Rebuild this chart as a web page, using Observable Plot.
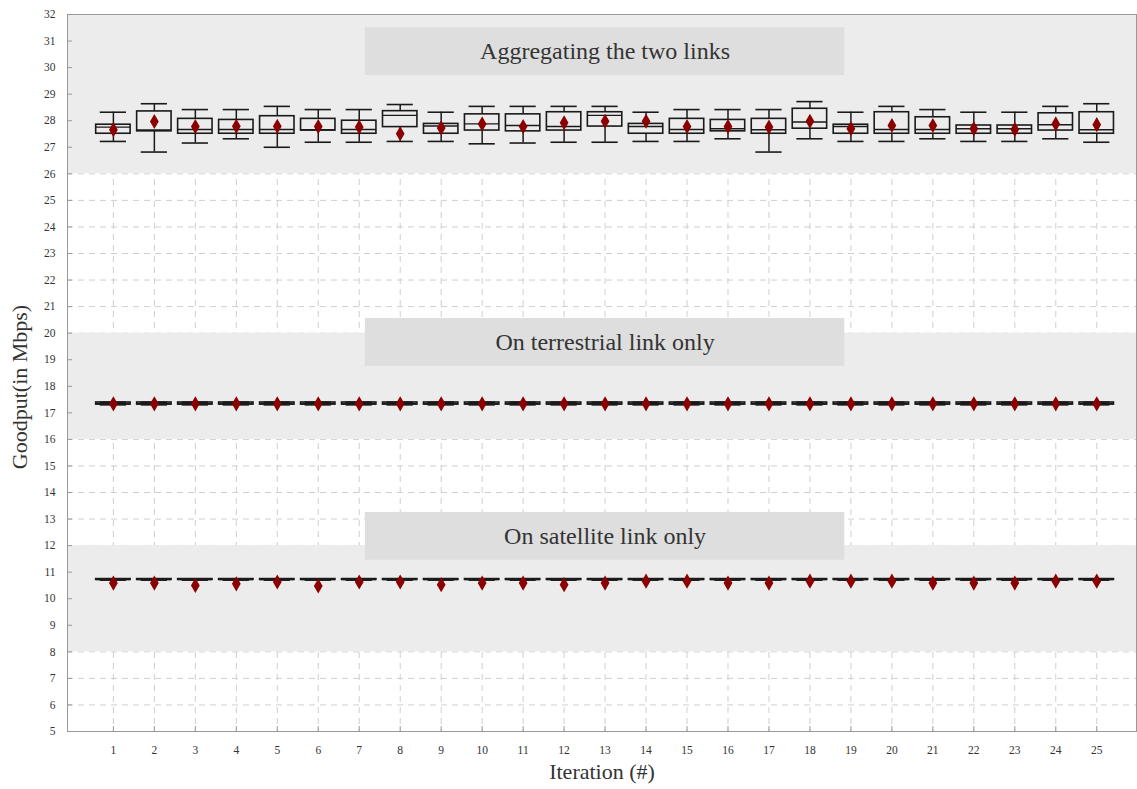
<!DOCTYPE html>
<html>
<head>
<meta charset="utf-8">
<script src="https://cdn.jsdelivr.net/npm/d3@7"></script>
<script src="https://cdn.jsdelivr.net/npm/@observablehq/plot@0.6"></script>
<style>
  html, body { margin: 0; padding: 0; background: #fff; }
  #chart svg { display: block; }
</style>
</head>
<body>
<div id="chart"></div>
<script>
// ---- data ----
const iterations = [1,2,3,4,5,6,7,8,9,10,11,12,13,14,15,16,17,18,19,20,21,22,23,24,25];
const yTicks = [5,6,7,8,9,10,11,12,13,14,15,16,17,18,19,20,21,22,23,24,25,26,27,28,29,30,31,32];

// Aggregating the two links
const aggHi   = [28.32,28.64,28.42,28.42,28.54,28.42,28.42,28.61,28.32,28.54,28.54,28.54,28.54,28.32,28.42,28.42,28.42,28.72,28.32,28.54,28.42,28.32,28.32,28.54,28.64];
const aggQ3   = [27.85,28.35,28.07,28.03,28.17,28.07,28.00,28.36,27.88,28.24,28.24,28.32,28.32,27.88,28.07,28.03,28.07,28.45,27.85,28.32,28.13,27.82,27.82,28.28,28.32];
const aggMed  = [27.76,27.65,27.67,27.67,27.67,27.66,27.67,28.20,27.80,27.88,27.82,27.78,28.20,27.78,27.67,27.70,27.66,27.95,27.78,27.67,27.67,27.70,27.70,27.85,27.66];
const aggQ1   = [27.51,27.60,27.51,27.51,27.51,27.63,27.51,27.76,27.51,27.63,27.60,27.63,27.78,27.51,27.51,27.60,27.51,27.70,27.51,27.51,27.51,27.51,27.51,27.63,27.51];
const aggLo   = [27.22,26.82,27.16,27.32,27.00,27.19,27.19,27.22,27.22,27.13,27.16,27.19,27.19,27.22,27.22,27.32,26.82,27.32,27.22,27.22,27.32,27.22,27.22,27.32,27.19];
const aggMean = [27.66,27.97,27.78,27.79,27.79,27.78,27.76,27.51,27.73,27.88,27.78,27.92,27.98,27.98,27.78,27.78,27.76,27.98,27.70,27.82,27.82,27.70,27.67,27.88,27.85];

// On terrestrial link only
const terHi   = [17.40,17.40,17.40,17.40,17.40,17.40,17.40,17.40,17.40,17.40,17.40,17.40,17.40,17.40,17.40,17.40,17.40,17.40,17.40,17.40,17.40,17.40,17.40,17.40,17.40];
const terQ3   = [17.39,17.39,17.39,17.39,17.39,17.39,17.39,17.39,17.39,17.39,17.39,17.39,17.39,17.39,17.39,17.39,17.39,17.39,17.39,17.39,17.39,17.39,17.39,17.39,17.39];
const terMed  = [17.35,17.35,17.35,17.35,17.35,17.35,17.35,17.35,17.35,17.35,17.35,17.35,17.35,17.35,17.35,17.35,17.35,17.35,17.35,17.35,17.35,17.35,17.35,17.35,17.35];
const terQ1   = [17.31,17.31,17.31,17.31,17.31,17.31,17.31,17.31,17.31,17.31,17.31,17.31,17.31,17.31,17.31,17.31,17.31,17.31,17.31,17.31,17.31,17.31,17.31,17.31,17.31];
const terLo   = [17.30,17.30,17.30,17.30,17.30,17.30,17.30,17.30,17.30,17.30,17.30,17.30,17.30,17.30,17.30,17.30,17.30,17.30,17.30,17.30,17.30,17.30,17.30,17.30,17.30];
const terMean = [17.34,17.34,17.34,17.34,17.34,17.34,17.34,17.34,17.34,17.34,17.34,17.34,17.34,17.34,17.34,17.34,17.34,17.34,17.34,17.34,17.34,17.34,17.34,17.34,17.34];

// On satellite link only
const satHi   = [10.75,10.75,10.75,10.75,10.75,10.75,10.75,10.75,10.75,10.75,10.75,10.75,10.75,10.75,10.75,10.75,10.75,10.75,10.75,10.75,10.75,10.75,10.75,10.75,10.75];
const satQ3   = [10.74,10.74,10.74,10.74,10.74,10.74,10.74,10.74,10.74,10.74,10.74,10.74,10.74,10.74,10.74,10.74,10.74,10.74,10.74,10.74,10.74,10.74,10.74,10.74,10.74];
const satMed  = [10.72,10.72,10.72,10.72,10.72,10.72,10.72,10.72,10.72,10.72,10.72,10.72,10.72,10.72,10.72,10.72,10.72,10.72,10.72,10.72,10.72,10.72,10.72,10.72,10.72];
const satQ1   = [10.71,10.71,10.71,10.71,10.71,10.71,10.71,10.71,10.71,10.71,10.71,10.71,10.71,10.71,10.71,10.71,10.71,10.71,10.71,10.71,10.71,10.71,10.71,10.71,10.71];
const satLo   = [10.70,10.70,10.70,10.70,10.70,10.70,10.70,10.70,10.70,10.70,10.70,10.70,10.70,10.70,10.70,10.70,10.70,10.70,10.70,10.70,10.70,10.70,10.70,10.70,10.70];
const satMean = [10.59,10.59,10.50,10.56,10.63,10.48,10.63,10.63,10.53,10.59,10.59,10.53,10.59,10.66,10.66,10.59,10.59,10.66,10.66,10.66,10.59,10.59,10.59,10.66,10.66];

// panels: shaded band range and title box centre
const panelLabels = ["Aggregating the two links", "On terrestrial link only", "On satellite link only"];
const panelLo     = [26, 16, 8];
const panelHi     = [32, 20, 12];
const panelTitleY = [30.6, 19.65, 12.35];
const panelTitleX = [13.0, 13.0, 13.0];

// ---- build tables ----
const series = [
  {hi: aggHi, q3: aggQ3, med: aggMed, q1: aggQ1, lo: aggLo, mean: aggMean},
  {hi: terHi, q3: terQ3, med: terMed, q1: terQ1, lo: terLo, mean: terMean},
  {hi: satHi, q3: satQ3, med: satMed, q1: satQ1, lo: satLo, mean: satMean}
];
const boxes = series.flatMap(s => iterations.map((it, i) => ({
  it, hi: s.hi[i], q3: s.q3[i], med: s.med[i], q1: s.q1[i], lo: s.lo[i], mean: s.mean[i]
})));
const panels = panelLabels.map((label, i) => ({
  label, lo: panelLo[i], hi: panelHi[i], ty: panelTitleY[i], tx: panelTitleX[i]
}));

const BOX_HALF = 0.42, CAP_HALF = 0.32, TITLE_HALF_W = 5.85, TITLE_HALF_H = 0.9;
const serif = "'Liberation Serif', 'DejaVu Serif', serif";
const ink = "#1a1a1a";

const chart = Plot.plot({
  width: 1137,
  height: 789,
  marginLeft: 67,
  marginRight: 1,
  marginTop: 14,
  marginBottom: 58,
  style: {fontFamily: serif, background: "#fff", color: "#333"},
  x: {domain: [-0.12, 25.97]},
  y: {domain: [5, 32]},
  marks: [
    // dashed grid
    Plot.ruleY(yTicks, {y: d => d, stroke: "#cfcfcf", strokeDasharray: "6,5", strokeWidth: 1}),
    Plot.ruleX(iterations, {x: d => d, stroke: "#cfcfcf", strokeDasharray: "6,5", strokeWidth: 1}),
    // shaded panels
    Plot.rect(panels, {y1: "lo", y2: "hi", fill: "#ececec"}),
    // title boxes
    Plot.rect(panels, {x1: d => d.tx - TITLE_HALF_W, x2: d => d.tx + TITLE_HALF_W,
                       y1: d => d.ty - TITLE_HALF_H, y2: d => d.ty + TITLE_HALF_H, fill: "#dedede"}),
    Plot.text(panels, {x: "tx", y: "ty", text: "label", fontSize: 24, fill: "#333", fontFamily: serif}),
    // whiskers
    Plot.ruleX(boxes, {x: "it", y1: "lo", y2: "q1", stroke: ink, strokeWidth: 1.5}),
    Plot.ruleX(boxes, {x: "it", y1: "q3", y2: "hi", stroke: ink, strokeWidth: 1.5}),
    Plot.ruleY(boxes, {y: "hi", x1: d => d.it - CAP_HALF, x2: d => d.it + CAP_HALF, stroke: ink, strokeWidth: 1.6}),
    Plot.ruleY(boxes, {y: "lo", x1: d => d.it - CAP_HALF, x2: d => d.it + CAP_HALF, stroke: ink, strokeWidth: 1.6}),
    // boxes
    Plot.rect(boxes, {x1: d => d.it - BOX_HALF, x2: d => d.it + BOX_HALF, y1: "q1", y2: "q3",
                      fill: "none", stroke: ink, strokeWidth: 1.6}),
    Plot.ruleY(boxes, {y: "med", x1: d => d.it - BOX_HALF, x2: d => d.it + BOX_HALF, stroke: ink, strokeWidth: 1.4}),
    // means
    Plot.dot(boxes, {x: "it", y: "mean", symbol: "diamond", r: 4.6, fill: "#8b0000", stroke: "none"}),
    // frame
    Plot.frame({stroke: "#999", strokeWidth: 1}),
    // axes
    Plot.axisY(yTicks, {tickSize: -5, tickPadding: 17, fontSize: 11.5, stroke: "#999", label: null, fill: "#333"}),
    Plot.axisX(iterations, {tickSize: -5, tickPadding: 19, fontSize: 11.5, stroke: "#999", label: null, fill: "#333"}),
    // axis titles
    Plot.text(["Goodput(in Mbps)"], {frameAnchor: "left", textAnchor: "middle", dx: -48, dy: 14, rotate: -90, fontSize: 22, fill: "#333", fontFamily: serif}),
    Plot.text(["Iteration (#)"], {frameAnchor: "bottom", dy: 47, fontSize: 22, fill: "#333", fontFamily: serif})
  ]
});
document.getElementById("chart").appendChild(chart);
</script>
</body>
</html>
